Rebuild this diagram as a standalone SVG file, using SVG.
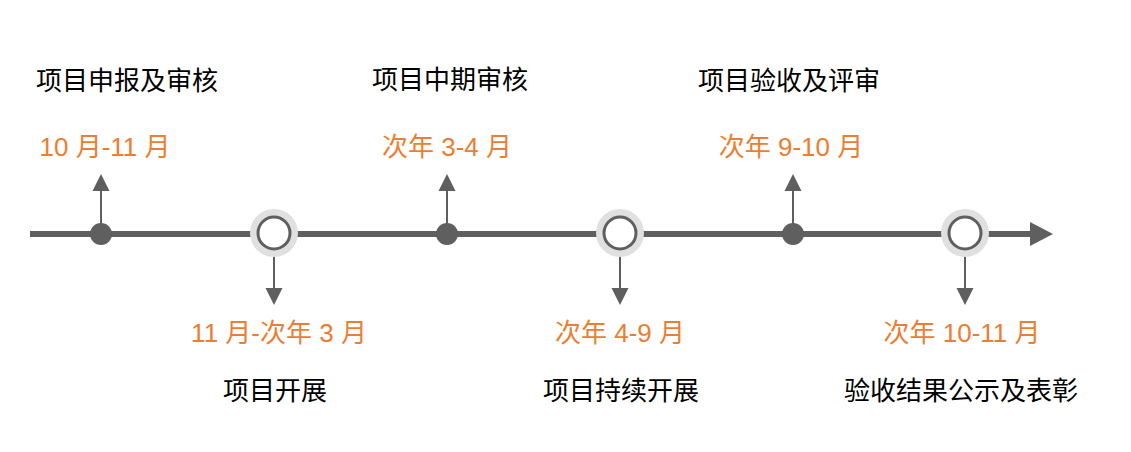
<svg xmlns="http://www.w3.org/2000/svg" width="1131" height="452" viewBox="0 0 1131 452">
<defs>
<style>
.title{font-family:"Liberation Sans","Noto Sans CJK SC",sans-serif;font-size:26px;fill:#000;text-anchor:middle}
.date{font-family:"Liberation Sans","Noto Sans CJK SC",sans-serif;font-size:26px;fill:#ED7D31;text-anchor:middle}
.stem{stroke:#5f5f5f;stroke-width:2;fill:none}
.dot{fill:#5f5f5f}
.ring{fill:#e0e0e0}
.hole{fill:#fff;stroke:#5f5f5f;stroke-width:3}
</style>
<marker id="ah" viewBox="0 0 10 10" refX="10" refY="5" markerWidth="8" markerHeight="9" markerUnits="userSpaceOnUse" orient="auto">
<path d="M0,0 L10,5 L0,10 Z" fill="#5f5f5f"/>
</marker>
</defs>
<g id="connectors">
<line x1="30" y1="234" x2="1032" y2="234" stroke="#5f5f5f" stroke-width="6"/>
<path d="M1030,222 L1053,234 L1030,246 Z" fill="#5f5f5f"/>
<line class="stem" x1="101" y1="234" x2="101" y2="190"/>
<path d="M92.5,191 L101,174 L109.5,191 Z" fill="#5f5f5f"/>
<line class="stem" x1="447" y1="234" x2="447" y2="190"/>
<path d="M438.5,191 L447,174 L455.5,191 Z" fill="#5f5f5f"/>
<line class="stem" x1="793" y1="234" x2="793" y2="190"/>
<path d="M784.5,191 L793,174 L801.5,191 Z" fill="#5f5f5f"/>
<line class="stem" x1="274" y1="256" x2="274" y2="290"/>
<path d="M265.5,288 L274,305 L282.5,288 Z" fill="#5f5f5f"/>
<line class="stem" x1="620" y1="256" x2="620" y2="290"/>
<path d="M611.5,288 L620,305 L628.5,288 Z" fill="#5f5f5f"/>
<line class="stem" x1="965" y1="256" x2="965" y2="290"/>
<path d="M956.5,288 L965,305 L973.5,288 Z" fill="#5f5f5f"/>
</g>
<g id="node1">
<circle class="dot" cx="101" cy="234" r="11"/>
<text class="title" x="127" y="90">项目申报及审核</text>
<text class="date" x="105" y="156">10 月-11 月</text>
</g>
<g id="node2">
<circle class="ring" cx="274" cy="233" r="24"/>
<circle class="hole" cx="274" cy="233" r="16"/>
<text class="date" x="279" y="342">11 月-次年 3 月</text>
<text class="title" x="275" y="400">项目开展</text>
</g>
<g id="node3">
<circle class="dot" cx="447" cy="234" r="11"/>
<text class="title" x="450" y="89">项目中期审核</text>
<text class="date" x="447" y="156">次年 3-4 月</text>
</g>
<g id="node4">
<circle class="ring" cx="620" cy="233" r="24"/>
<circle class="hole" cx="620" cy="233" r="16"/>
<text class="date" x="620" y="342">次年 4-9 月</text>
<text class="title" x="621" y="400">项目持续开展</text>
</g>
<g id="node5">
<circle class="dot" cx="793" cy="234" r="11"/>
<text class="title" x="789" y="90">项目验收及评审</text>
<text class="date" x="791" y="156">次年 9-10 月</text>
</g>
<g id="node6">
<circle class="ring" cx="965" cy="233" r="24"/>
<circle class="hole" cx="965" cy="233" r="16"/>
<text class="date" x="962" y="342">次年 10-11 月</text>
<text class="title" x="961" y="400">验收结果公示及表彰</text>
</g>
</svg>
